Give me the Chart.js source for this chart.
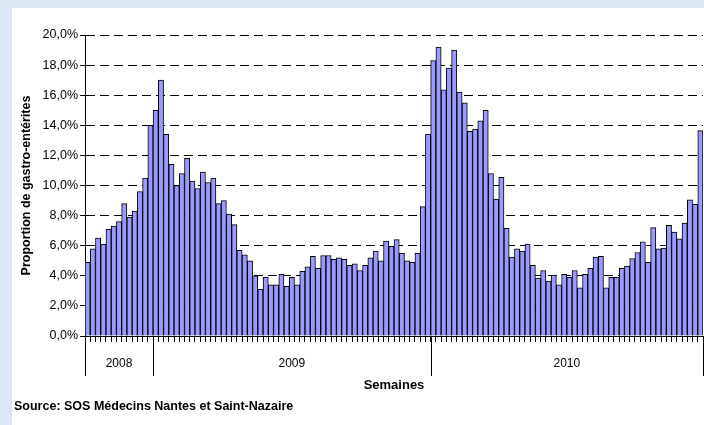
<!DOCTYPE html>
<html>
<head>
<meta charset="utf-8">
<script src="https://cdn.jsdelivr.net/npm/chart.js@4.4.1/dist/chart.umd.min.js"></script>
<style>
    html, body { margin: 0; padding: 0; background: #dce6f2; }
    #frame { position: absolute; left: 12px; top: 8px; width: 692px; height: 417px; background: #fff; }
    canvas { display: block; }
</style>
</head>
<body>
<div id="frame"><canvas id="gastroChart" width="692" height="417"></canvas></div>
<script>
const years = ['2008', '2009', '2010'];
const firstWeek = [40, 1, 1];

// proportion hebdomadaire (%)
const values2008 = [4.9, 5.8, 6.5, 6.1, 7.1, 7.3, 7.6, 8.8, 7.9, 8.3, 9.6, 10.5, 14.0];
const values2009 = [15.0, 17.0, 13.4, 11.4, 10.0, 10.8, 11.8, 10.3, 9.8, 10.9, 10.2, 10.5, 8.8,
    9.0, 8.1, 7.4, 5.7, 5.4, 5.0, 4.0, 3.1, 3.9, 3.4, 3.4, 4.1, 3.3, 3.9, 3.4, 4.3, 4.6, 5.3,
    4.5, 5.35, 5.35, 5.1, 5.2, 5.1, 4.7, 4.8, 4.35, 4.7, 5.2, 5.65, 5.0, 6.3, 5.95, 6.4, 5.5,
    5.0, 4.9, 5.5, 8.6, 13.4];
const values2010 = [18.3, 19.2, 16.35, 17.8, 19.0, 16.2, 15.5, 13.6, 13.75, 14.3, 15.0, 10.8,
    9.1, 10.55, 7.15, 5.25, 5.8, 5.65, 6.1, 4.7, 3.85, 4.35, 3.65, 4.05, 3.4, 4.1, 3.9, 4.35,
    3.2, 4.1, 4.5, 5.25, 5.3, 3.2, 3.9, 3.9, 4.5, 4.65, 5.15, 5.55, 6.25, 4.9, 7.2, 5.8, 5.85,
    7.35, 6.9, 6.45, 7.5, 9.05, 8.75, 13.65];

const yearValues = [values2008, values2009, values2010];

const FONT = '"Liberation Sans", Arial, sans-serif';

let labels = [];
let data = [];
yearValues.forEach((vals, i) => {
    vals.forEach((v, k) => {
        labels.push('S' + (firstWeek[i] + k) + ' ' + years[i]);
        data.push(v);
    });
});

// séparateurs et libellés des années sous l'axe des semaines
const yearAxis = {
    id: 'yearAxis',
    afterDraw(chart) {
        const xs = chart.scales.x;
        const ctx = chart.ctx;
        const half = (xs.getPixelForValue(1) - xs.getPixelForValue(0)) / 2;
        const top = xs.top;
        ctx.save();
        ctx.strokeStyle = '#000';
        ctx.lineWidth = 1;
        ctx.fillStyle = '#000';
        ctx.font = '12px ' + FONT;
        ctx.textAlign = 'center';
        ctx.textBaseline = 'middle';
        let start = 0;
        yearValues.forEach((vals, i) => {
            const end = start + vals.length;
            const x0 = xs.getPixelForValue(start) - half;
            const x1 = xs.getPixelForValue(end - 1) + half;
            const lines = i === yearValues.length - 1 ? [x0, x1] : [x0];
            lines.forEach(x => {
                const px = Math.round(x) + 0.5;
                ctx.beginPath();
                ctx.moveTo(px, top);
                ctx.lineTo(px, top + 40);
                ctx.stroke();
            });
            ctx.fillText(years[i], (x0 + x1) / 2, top + 28);
            start = end;
        });
        ctx.restore();
    }
};

new Chart(document.getElementById('gastroChart'), {
    type: 'bar',
    data: {
        labels,
        datasets: [{
            data,
            backgroundColor: '#9999ff',
            borderColor: '#000',
            borderWidth: 1,
            barPercentage: 1,
            categoryPercentage: 1
        }]
    },
    options: {
        responsive: false,
        animation: false,
        devicePixelRatio: 1,
        layout: { padding: { left: 2, right: 1, top: 27, bottom: 0 } },
        plugins: {
            legend: { display: false },
            tooltip: { enabled: false },
            title: {
                display: true,
                text: 'Source: SOS Médecins Nantes et Saint-Nazaire',
                position: 'bottom',
                align: 'start',
                color: '#000',
                font: { family: FONT, size: 12.5, weight: 'bold' },
                padding: { top: 3, bottom: 11 }
            }
        },
        scales: {
            x: {
                offset: true,
                grid: { display: true, drawOnChartArea: false, drawTicks: true, tickLength: 6, offset: true, tickColor: '#000', color: '#000' },
                border: { display: true, color: '#000', width: 1 },
                ticks: { display: false },
                title: {
                    display: true,
                    text: 'Semaines',
                    color: '#000',
                    font: { family: FONT, size: 13, weight: 'bold' },
                    padding: { top: 0, bottom: 3 }
                },
                afterFit(s) { s.height = 60; }
            },
            y: {
                min: 0,
                max: 20,
                ticks: {
                    stepSize: 2,
                    padding: 2,
                    color: '#000',
                    font: { family: FONT, size: 12.5 },
                    callback: v => v.toFixed(1).replace('.', ',') + '%'
                },
                grid: { color: '#000', lineWidth: 1, tickLength: 5, tickColor: '#000', tickBorderDash: [] },
                border: { display: true, color: '#000', width: 1, dash: [9, 5] },
                title: {
                    display: true,
                    text: 'Proportion de gastro-entérites',
                    color: '#000',
                    font: { family: FONT, size: 12.5, weight: 'bold' },
                    padding: { top: 5, bottom: 0 }
                },
                afterFit(s) { s.width = 71; }
            }
        }
    },
    plugins: [yearAxis]
});
</script>
</body>
</html>
